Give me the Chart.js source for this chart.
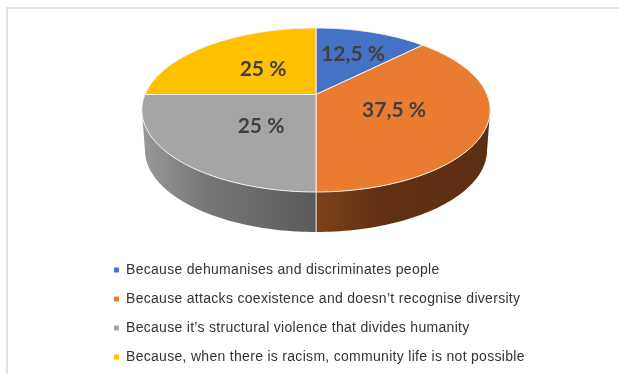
<!DOCTYPE html>
<html>
<head>
<meta charset="utf-8">
<script src="https://cdn.jsdelivr.net/npm/chart.js@4"></script>
<style>
  html, body { margin: 0; background: #fff; }
  #wrap { position: relative; width: 619px; height: 374px; overflow: hidden; }
  #grafico { position: absolute; left: 0; top: 0; filter: blur(0.4px); }
  #frame { position: absolute; left: 6px; top: 7px; width: 620px; height: 400px;
           border-top: 2px solid #e2e2e2; border-left: 2px solid #e2e2e2; }
</style>
</head>
<body>
<div id="wrap">
  <div id="frame"></div>
  <canvas id="grafico" width="619" height="374"></canvas>
</div>
<script>
var categories = [
  "Because dehumanises and discriminates people",
  "Because attacks coexistence and doesn\u2019t recognise diversity",
  "Because it\u2019s structural violence that divides humanity",
  "Because, when there is racism, community life is not possible"
];
var values = [12.5, 37.5, 25, 25];
var colors = ["#4472c4", "#ea7c32", "#a5a5a5", "#ffc000"];

// side wall gradients, only the slices facing us have one
var sideStops = [null, ["#7d4119", "#623113", "#5c2e12"], ["#999999", "#787878", "#5a5a5a"], null];
var labelSpots = [[353, 54], [394, 110], [261, 126], [263, 69]];

// perspective of the disc, worked out from the picture
var cx = 316;
var apexY = 94.5;
var tilt = -0.189;
var spreadY = 61.2;
var spreadX = 171;
var depth = 40;
var bottomSpreadX = 168;
var sideLimit = Math.asin(0.189);

function project(angle, sx, dy) {
  var u = Math.cos(angle);
  var v = Math.sin(angle);
  var w = 1 + tilt * v;
  return [cx + sx * u / w, (apexY + spreadY * v) / w + dy];
}

function drawSide(ctx, start, end, index) {
  if (!sideStops[index]) return;
  var a = Math.max(start, sideLimit);
  var b = Math.min(end, Math.PI - sideLimit);
  if (b <= a) return;
  var i, p;
  ctx.beginPath();
  for (i = 0; i <= 60; i++) {
    p = project(a + (b - a) * i / 60, spreadX, 0);
    if (i === 0) ctx.moveTo(p[0], p[1]); else ctx.lineTo(p[0], p[1]);
  }
  for (i = 60; i >= 0; i--) {
    p = project(a + (b - a) * i / 60, bottomSpreadX, depth);
    ctx.lineTo(p[0], p[1]);
  }
  ctx.closePath();
  var left = project(b, spreadX, 0)[0];
  var right = project(a, spreadX, 0)[0];
  var grad = ctx.createLinearGradient(left, 0, right, 0);
  var stops = sideStops[index];
  grad.addColorStop(0, stops[0]);
  grad.addColorStop(0.35, stops[1]);
  grad.addColorStop(1, stops[2]);
  ctx.fillStyle = grad;
  ctx.fill();
  // seam between the two walls
  ctx.strokeStyle = "#d8d4d0";
  ctx.lineWidth = 1;
  var q = project(Math.PI / 2, spreadX, 0);
  if (Math.abs(a - Math.PI / 2) < 0.001 || Math.abs(b - Math.PI / 2) < 0.001) {
    ctx.beginPath();
    ctx.moveTo(q[0], q[1]);
    ctx.lineTo(q[0], q[1] + depth);
    ctx.stroke();
  }
}

// arcs still come from the pie controller, they just paint themselves tilted
var arcDraw = 0;
Chart.ArcElement.prototype.draw = function (ctx) {
  var index = arcDraw++ % values.length;
  var start = this.startAngle;
  var end = this.endAngle;
  ctx.save();
  drawSide(ctx, start, end, index);
  ctx.beginPath();
  ctx.moveTo(cx, apexY);
  for (var i = 0; i <= 80; i++) {
    var p = project(start + (end - start) * i / 80, spreadX, 0);
    ctx.lineTo(p[0], p[1]);
  }
  ctx.closePath();
  ctx.fillStyle = this.options.backgroundColor;
  ctx.fill();
  ctx.strokeStyle = "#f3efe9";
  ctx.lineWidth = 1;
  ctx.lineJoin = "round";
  ctx.stroke();
  ctx.restore();
};

var valueLabels = {
  id: "valueLabels",
  // legend text in the picture runs a bit wide
  beforeUpdate: function (chart) { chart.ctx.letterSpacing = "0.3px"; },
  beforeDraw: function (chart) { chart.ctx.letterSpacing = "0.3px"; },
  afterDatasetsDraw: function (chart) {
    var ctx = chart.ctx;
    ctx.save();
    ctx.letterSpacing = "0px";
    ctx.font = "bold 21px Lato";
    ctx.fillStyle = "#404040";
    ctx.textAlign = "center";
    ctx.textBaseline = "middle";
    values.forEach(function (v, i) {
      ctx.fillText(String(v).replace(".", ",") + " %", labelSpots[i][0], labelSpots[i][1]);
    });
    ctx.restore();
  }
};

var ctx = document.getElementById("grafico").getContext("2d");
var chart = new Chart(ctx, {
  type: "pie",
  data: {
    labels: categories,
    datasets: [{ data: values, backgroundColor: colors, borderWidth: 0 }]
  },
  options: {
    responsive: false,
    animation: false,
    layout: { padding: { left: 99, bottom: 0 } },
    plugins: {
      tooltip: { enabled: false },
      legend: {
        position: "bottom",
        align: "start",
        labels: {
          boxWidth: 5,
          boxHeight: 5,
          padding: 15,
          color: "#333333",
          font: { family: "'Liberation Sans'", size: 14 }
        }
      }
    }
  },
  plugins: [valueLabels]
});
</script>
</body>
</html>
